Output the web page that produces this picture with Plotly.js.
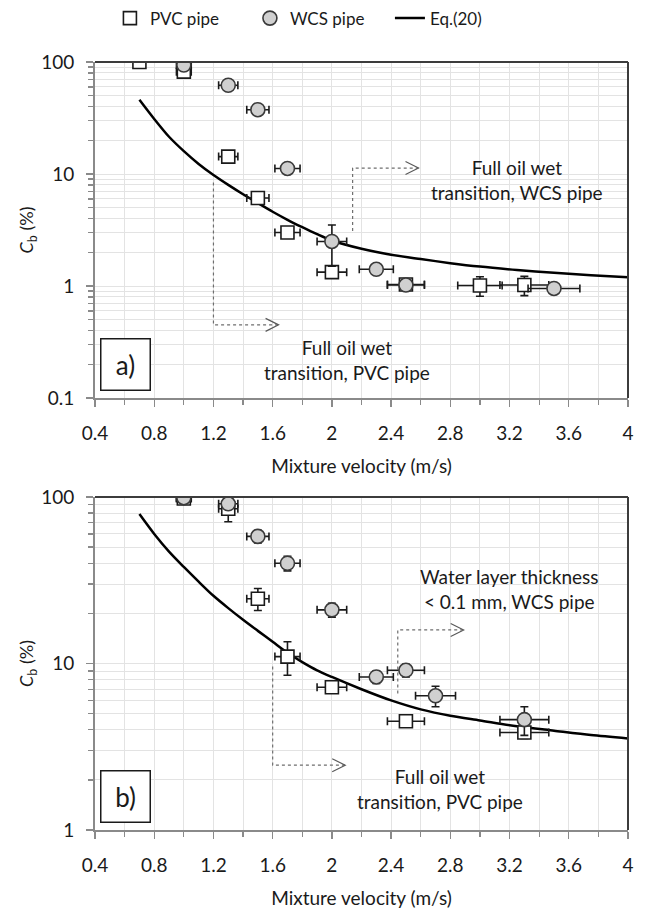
<!DOCTYPE html>
<html>
<head>
<meta charset="utf-8">
<script src="https://cdn.plot.ly/plotly-3.0.1.min.js"></script>
<style>html,body{margin:0;padding:0;background:#fff}</style>
</head>
<body>
<div id="chart" style="width:646px;height:911px"></div>
<script>
// ---------- data ----------
const seriesNames = ['PVC pipe', 'WCS pipe', 'Eq.(20)'];

// panel a)
const aPvcV  = [0.7, 1.0, 1.3, 1.5, 1.7, 2.0, 2.5, 3.0, 3.3];
const aPvcC  = [100, 82, 14.3, 6.1, 3.0, 1.33, 1.03, 1.01, 1.02];
const aPvcErr = [0, 8, 0.5, 0.3, 0.15, 0.15, 0.08, 0.2, 0.2];
const aWcsV  = [1.0, 1.3, 1.5, 1.7, 2.0, 2.3, 2.5, 3.5];
const aWcsC  = [94, 62, 37.5, 11.2, 2.5, 1.41, 1.02, 0.95];
const aWcsErr = [3, 3, 2, 0.6, 1.0, 0.07, 0.1, 0.05];
const aEqV = [0.7, 0.8, 0.9, 1.0, 1.1, 1.2, 1.3, 1.4, 1.5, 1.6, 1.7, 1.8, 1.9, 2.0, 2.2, 2.4, 2.6, 2.8, 3.0, 3.25, 3.5, 3.75, 4.0];
const aEqC = [46, 31, 21.5, 16, 12.3, 9.8, 8.0, 6.6, 5.5, 4.6, 3.9, 3.35, 2.9, 2.55, 2.15, 1.9, 1.74, 1.6, 1.49, 1.39, 1.31, 1.25, 1.2];

// panel b)
const bPvcV  = [1.0, 1.3, 1.5, 1.7, 2.0, 2.5, 3.3];
const bPvcC  = [98, 85, 24.5, 11, 7.2, 4.5, 3.85];
const bPvcErr = [5, 14, 3.7, 2.5, 0.5, 0.35, 0.3];
const bWcsV  = [1.0, 1.3, 1.5, 1.7, 2.0, 2.3, 2.5, 2.7, 3.3];
const bWcsC  = [99, 91, 58, 40, 21, 8.3, 9.1, 6.4, 4.6];
const bWcsErr = [5, 5, 5, 4, 2, 0.7, 0.8, 0.9, 0.9];
const bEqV = [0.7, 0.8, 0.9, 1.0, 1.1, 1.2, 1.3, 1.4, 1.5, 1.6, 1.7, 1.8, 1.9, 2.0, 2.2, 2.4, 2.6, 2.8, 3.0, 3.25, 3.5, 3.75, 4.0];
const bEqC = [79, 60, 47, 38, 31, 25.5, 21.5, 18.3, 15.7, 13.5, 11.6, 10.2, 9.1, 8.3, 7.0, 6.0, 5.3, 4.85, 4.55, 4.2, 3.95, 3.72, 3.55];

// velocity uncertainty (percent)
const velErrPct = 5;

// tick labels
const xTickVals = [0.4, 0.8, 1.2, 1.6, 2, 2.4, 2.8, 3.2, 3.6, 4];
const xTickText = ['0.4', '0.8', '1.2', '1.6', '2', '2.4', '2.8', '3.2', '3.6', '4'];
const aYTickVals = [0.1, 1, 10, 100];
const aYTickText = ['0.1', '1', '10', '100'];
const bYTickVals = [1, 10, 100];
const bYTickText = ['1', '10', '100'];

// annotation guides (data coordinates)
const aWcsGuideV = [2.14, 2.14, 2.585];
const aWcsGuideC = [3.1, 11.3, 11.3];
const aPvcGuideV = [1.2, 1.2, 1.64];
const aPvcGuideC = [8.4, 0.45, 0.45];
const bWcsGuideV = [2.445, 2.445, 2.89];
const bWcsGuideC = [6.6, 15.9, 15.9];
const bPvcGuideV = [1.6, 1.6, 2.09];
const bPvcGuideC = [9.6, 2.45, 2.45];

const aWcsText = 'Full oil wet<br>transition, WCS pipe';
const aPvcText = 'Full oil wet<br>transition, PVC pipe';
const bWcsText = 'Water layer thickness<br>&lt; 0.1 mm, WCS pipe';
const bPvcText = 'Full oil wet<br>transition, PVC pipe';

// ---------- styles ----------
const FONT = 'Lato, "Open Sans", sans-serif';
const TXT = '#1a1a1a';
const pvcMarker = {symbol: 'square', size: 13, color: '#ffffff', line: {color: '#1a1a1a', width: 1.6}};
const wcsMarker = {symbol: 'circle', size: 14, color: '#d0d0d0', line: {color: '#3a3a3a', width: 1.6}};
const errStyle = {color: '#1a1a1a', thickness: 1.6, width: 4};

function pts(x, y, err, marker, name, xa, ya, show, rank) {
  return {
    type: 'scatter', mode: 'markers', x: x, y: y, name: name,
    xaxis: xa, yaxis: ya, showlegend: show, legendgroup: name, legendrank: rank,
    marker: marker,
    error_x: Object.assign({type: 'percent', value: velErrPct, visible: true}, errStyle),
    error_y: Object.assign({type: 'data', array: err, visible: true}, errStyle),
    hoverinfo: 'x+y'
  };
}
function curve(x, y, xa, ya, show) {
  return {type: 'scatter', mode: 'lines', x: x, y: y, name: seriesNames[2],
    xaxis: xa, yaxis: ya, showlegend: show, legendgroup: 'eq', legendrank: 3,
    line: {color: '#000000', width: 2.5, shape: 'spline', smoothing: 0.8}};
}
function guide(x, y, xa, ya) {
  return {type: 'scatter', mode: 'lines', x: x, y: y, xaxis: xa, yaxis: ya,
    showlegend: false, hoverinfo: 'skip',
    line: {color: '#6e6e6e', width: 1.2, dash: 'dot'}};
}

const data = [
  curve(aEqV, aEqC, 'x', 'y', true),
  guide(aWcsGuideV, aWcsGuideC, 'x', 'y'),
  guide(aPvcGuideV, aPvcGuideC, 'x', 'y'),
  pts(aPvcV, aPvcC, aPvcErr, pvcMarker, seriesNames[0], 'x', 'y', true, 1),
  pts(aWcsV, aWcsC, aWcsErr, wcsMarker, seriesNames[1], 'x', 'y', true, 2),
  curve(bEqV, bEqC, 'x2', 'y2', false),
  guide(bWcsGuideV, bWcsGuideC, 'x2', 'y2'),
  guide(bPvcGuideV, bPvcGuideC, 'x2', 'y2'),
  pts(bPvcV, bPvcC, bPvcErr, pvcMarker, seriesNames[0], 'x2', 'y2', false, 1),
  pts(bWcsV, bWcsC, bWcsErr, wcsMarker, seriesNames[1], 'x2', 'y2', false, 2)
];

function xAxis(anchor) {
  return {
    anchor: anchor, range: [0.4, 4], tickmode: 'array', tickvals: xTickVals, ticktext: xTickText,
    ticks: 'outside', ticklen: 7, tickwidth: 1.3, tickcolor: '#8a8a8a',
    showline: true, linecolor: '#8a8a8a', linewidth: 2,
    showgrid: true, gridcolor: '#e3e3e3', gridwidth: 1, zeroline: false,
    minor: {dtick: 0.2, tick0: 0.4, ticks: 'outside', ticklen: 5, tickcolor: '#8a8a8a', showgrid: true, gridcolor: '#e3e3e3'},
    tickfont: {family: FONT, size: 19, color: TXT},
    title: {text: 'Mixture velocity (m/s)', font: {family: FONT, size: 19, color: TXT}, standoff: 17},
    ticklabelstandoff: 10
  };
}
function yAxis(anchor, dom, rng, tv, tt) {
  return {
    anchor: anchor, domain: dom, type: 'log', range: rng,
    tickmode: 'array', tickvals: tv, ticktext: tt,
    ticks: 'outside', ticklen: 7, tickwidth: 1.3, tickcolor: '#8a8a8a',
    showline: true, linecolor: '#8a8a8a', linewidth: 2,
    showgrid: true, gridcolor: '#e3e3e3', zeroline: false,
    minor: {dtick: 'D1', ticks: 'outside', ticklen: 5, tickcolor: '#8a8a8a', showgrid: true, gridcolor: '#e3e3e3'},
    tickfont: {family: FONT, size: 19, color: TXT},
    title: {text: '<i>C</i><sub>b</sub> (%)', font: {family: FONT, size: 18, color: TXT}, standoff: 3},
    ticklabelstandoff: 8
  };
}

function frame(xr, yr) {
  return [
    {type: 'line', xref: xr + ' domain', yref: yr + ' domain', x0: 0, x1: 1, y0: 1, y1: 1, line: {color: '#3c3c3c', width: 2}},
    {type: 'line', xref: xr + ' domain', yref: yr + ' domain', x0: 1, x1: 1, y0: 0, y1: 1, line: {color: '#3c3c3c', width: 2}}
  ];
}
// open chevron arrow head, sized in pixels, anchored at the guide's end
function head(xr, yr, v, c) {
  return {type: 'path', xref: xr, yref: yr, xsizemode: 'pixel', ysizemode: 'pixel',
    xanchor: v, yanchor: c, path: 'M-13,6.5 L0,0 L-13,-6.5',
    line: {color: '#5a5a5a', width: 1.2}};
}
function label(xr, yr, v, c, txt) {
  return {xref: xr, yref: yr, x: v, y: Math.log10(c), text: txt, showarrow: false,
    font: {family: FONT, size: 19, color: TXT}, align: 'center'};
}
function panelTag(xr, yr, txt) {
  return {xref: xr + ' domain', yref: yr + ' domain', x: 0.01, y: 0.02, xanchor: 'left', yanchor: 'bottom',
    text: txt, showarrow: false, font: {family: FONT, size: 26, color: TXT},
    bordercolor: '#1a1a1a', borderwidth: 1.5, borderpad: 6, bgcolor: '#ffffff', width: 36, height: 38};
}

const layout = {
  width: 646, height: 911,
  margin: {l: 95, r: 18, t: 62, b: 81, autoexpand: false},
  paper_bgcolor: '#ffffff', plot_bgcolor: '#ffffff',
  font: {family: FONT, color: TXT},
  showlegend: true,
  legend: {orientation: 'h', x: 0.028, xanchor: 'left', y: 1.08, yanchor: 'top',
    font: {family: FONT, size: 17, color: TXT}, entrywidth: 95, entrywidthmode: 'pixels',
    traceorder: 'normal', bgcolor: 'rgba(0,0,0,0)'},
  xaxis: xAxis('y'),
  yaxis: yAxis('x', [0.5625, 1], [-1, 2], aYTickVals, aYTickText),
  xaxis2: xAxis('y2'),
  yaxis2: yAxis('x2', [0, 0.4336], [0, 2], bYTickVals, bYTickText),
  shapes: [].concat(frame('x', 'y'), frame('x2', 'y2'), [
    head('x', 'y', aWcsGuideV[2], aWcsGuideC[2]),
    head('x', 'y', aPvcGuideV[2], aPvcGuideC[2]),
    head('x2', 'y2', bWcsGuideV[2], bWcsGuideC[2]),
    head('x2', 'y2', bPvcGuideV[2], bPvcGuideC[2])
  ]),
  annotations: [
    label('x', 'y', 3.25, 8.8, aWcsText),
    label('x', 'y', 2.1, 0.22, aPvcText),
    label('x2', 'y2', 3.2, 28, bWcsText),
    label('x2', 'y2', 2.73, 1.76, bPvcText),
    panelTag('x', 'y', 'a)'),
    panelTag('x2', 'y2', 'b)')
  ]
};

Plotly.newPlot('chart', data, layout, {staticPlot: true, displayModeBar: false});
</script>
</body>
</html>
